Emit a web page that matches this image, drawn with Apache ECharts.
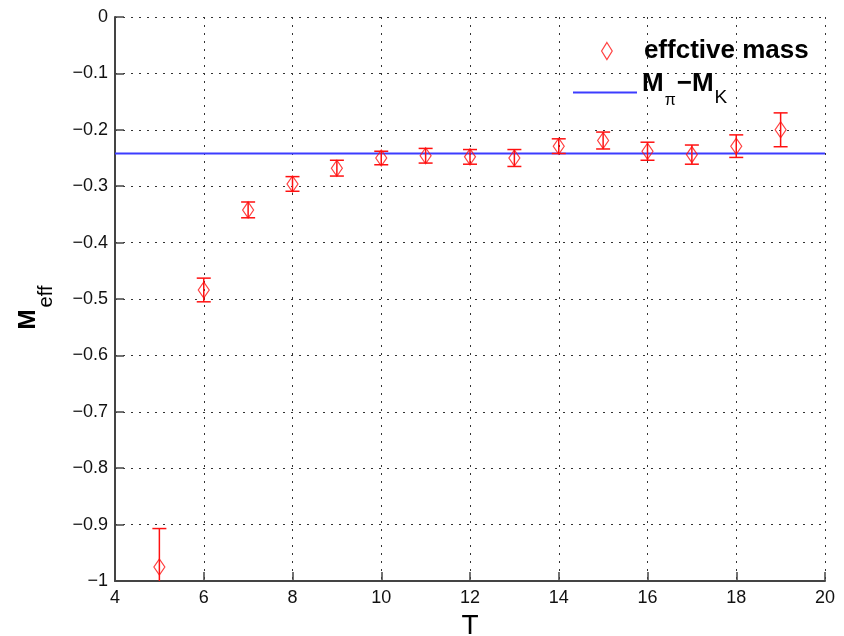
<!DOCTYPE html>
<html>
<head>
<meta charset="utf-8">
<script src="https://cdn.jsdelivr.net/npm/echarts@6/dist/echarts.min.js"></script>
<style>
  html, body { margin: 0; padding: 0; background: #ffffff; }
  #chart { width: 844px; height: 636px; }
</style>
</head>
<body>
<div id="chart"></div>
<script>
// Time slices T with effective-mass estimates and their statistical errors
const tValues = [5, 6, 7, 8, 9, 10, 11, 12, 13, 14, 15, 16, 17, 18, 19];
const meffValues = [-0.975, -0.484, -0.342, -0.296, -0.268, -0.250, -0.246, -0.248,
                    -0.250, -0.229, -0.219, -0.238, -0.244, -0.229, -0.200];
const meffErrors = [0.068, 0.021, 0.014, 0.013, 0.014, 0.012, 0.013, 0.013,
                    0.015, 0.013, 0.015, 0.016, 0.017, 0.020, 0.030];

// Reference level M_pi - M_K, drawn across the full T range
const massDiff = -0.242;
const lineT = [4, 20];

// Axis ticks and their labels
const xTicks = [4, 6, 8, 10, 12, 14, 16, 18, 20];
const yTicks = [0, -0.1, -0.2, -0.3, -0.4, -0.5, -0.6, -0.7, -0.8, -0.9, -1];
const yTickLabels = ['0', '\u22120.1', '\u22120.2', '\u22120.3', '\u22120.4', '\u22120.5',
                     '\u22120.6', '\u22120.7', '\u22120.8', '\u22120.9', '\u22121'];

const seriesNames = ['effctive mass', 'M\u03c0\u2212MK'];

const FONT = "'Liberation Sans', Arial, Helvetica, sans-serif";
const RED = '#ff1010';
const BLUE = '#3c3cff';
const AXIS = '#444444';

const gridLine = { show: true, lineStyle: { color: '#333333', width: 1, type: [2, 6] } };

const chart = echarts.init(document.getElementById('chart'), null, { renderer: 'canvas' });

chart.setOption({
  animation: false,
  backgroundColor: '#ffffff',
  textStyle: { fontFamily: FONT },
  grid: { left: 115, top: 17, right: 19, bottom: 55, containLabel: false, outerBoundsMode: 'none' },
  xAxis: {
    type: 'value',
    min: xTicks[0],
    max: xTicks[xTicks.length - 1],
    interval: xTicks[1] - xTicks[0],
    name: 'T',
    nameLocation: 'middle',
    nameGap: 30,
    nameTextStyle: { fontSize: 28, color: '#000000', fontFamily: FONT, lineHeight: 28 },
    axisLine: { show: true, onZero: false, lineStyle: { color: AXIS, width: 2 } },
    axisTick: { show: true, inside: true, length: 9, lineStyle: { color: AXIS, width: 1.5 } },
    axisLabel: { fontSize: 18, color: '#111111', margin: 8, fontFamily: FONT },
    splitLine: gridLine
  },
  yAxis: {
    type: 'value',
    min: yTicks[yTicks.length - 1],
    max: yTicks[0],
    interval: 0.1,
    name: '{m|M}{s|eff}',
    nameLocation: 'middle',
    nameRotate: 90,
    nameGap: 59,
    nameTextStyle: {
      color: '#000000',
      rich: {
        m: { fontSize: 24, fontWeight: 'bold', verticalAlign: 'top', fontFamily: FONT, color: '#000000' },
        s: { fontSize: 20, verticalAlign: 'top', padding: [20, 17, 0, 2], fontFamily: FONT, color: '#000000' }
      }
    },
    axisLine: { show: true, onZero: false, lineStyle: { color: AXIS, width: 2 } },
    axisTick: { show: true, inside: true, length: 9, lineStyle: { color: AXIS, width: 1.5 } },
    axisLabel: {
      fontSize: 18, color: '#111111', margin: 7, fontFamily: FONT,
      formatter: function (v) {
        for (let i = 0; i < yTicks.length; i++) {
          if (Math.abs(yTicks[i] - v) < 1e-9) return yTickLabels[i];
        }
        return '';
      }
    },
    splitLine: gridLine
  },
  legend: [
    {
      data: [{ name: seriesNames[0], icon: 'path://M5,0L10,8L5,16L0,8Z' }],
      orient: 'vertical',
      left: 601,
      top: 26,
      padding: 0,
      itemWidth: 64,
      itemHeight: 17,
      symbolKeepAspect: true,
      selectedMode: false,
      itemStyle: { color: 'rgba(255,255,255,0)', borderColor: RED, borderWidth: 1.2 },
      textStyle: { fontSize: 26, fontWeight: 'bold', lineHeight: 30, padding: [20, 0, 0, 0], color: '#000000', fontFamily: FONT }
    },
    {
      data: [{ name: seriesNames[1], icon: 'rect', itemStyle: { color: BLUE, borderWidth: 0 } }],
      orient: 'vertical',
      left: 573,
      top: 71,
      padding: 0,
      itemWidth: 64,
      itemHeight: 2,
      selectedMode: false,
      formatter: function () { return '{m|M}{p|\u03c0}{m|\u2212M}{k|K}'; },
      textStyle: {
        color: '#000000',
        rich: {
          m: { fontSize: 26, fontWeight: 'bold', verticalAlign: 'top', fontFamily: FONT, color: '#000000' },
          p: { fontSize: 16, verticalAlign: 'top', padding: [22, 1, 5, 1], fontFamily: FONT, color: '#000000' },
          k: { fontSize: 19, verticalAlign: 'top', padding: [17, 0, 0, 1], fontFamily: FONT, color: '#000000' }
        }
      }
    }
  ],
  series: [
    {
      // vertical error bars with caps
      type: 'custom',
      name: 'errors',
      silent: true,
      clip: true,
      z: 3,
      encode: { x: 0, y: [1, 2] },
      data: tValues.map((t, i) => [t, meffValues[i] - meffErrors[i], meffValues[i] + meffErrors[i]]),
      renderItem: function (params, api) {
        const t = api.value(0);
        const lo = api.coord([t, api.value(1)]);
        const hi = api.coord([t, api.value(2)]);
        const cap = 7;
        const style = { stroke: RED, lineWidth: 1.5, fill: null };
        return {
          type: 'group',
          children: [
            { type: 'line', shape: { x1: lo[0], y1: lo[1], x2: hi[0], y2: hi[1] }, style: style },
            { type: 'line', shape: { x1: lo[0] - cap, y1: lo[1], x2: lo[0] + cap, y2: lo[1] }, style: style },
            { type: 'line', shape: { x1: hi[0] - cap, y1: hi[1], x2: hi[0] + cap, y2: hi[1] }, style: style }
          ]
        };
      }
    },
    {
      type: 'scatter',
      name: seriesNames[0],
      silent: true,
      z: 4,
      symbol: 'diamond',
      symbolSize: [11, 16],
      itemStyle: { color: 'rgba(255,255,255,0)', borderColor: RED, borderWidth: 1.2 },
      data: tValues.map((t, i) => [t, meffValues[i]])
    },
    {
      type: 'line',
      name: seriesNames[1],
      silent: true,
      z: 2,
      symbol: 'none',
      color: BLUE,
      lineStyle: { color: BLUE, width: 2 },
      data: lineT.map(t => [t, massDiff])
    }
  ]
});
</script>
</body>
</html>
